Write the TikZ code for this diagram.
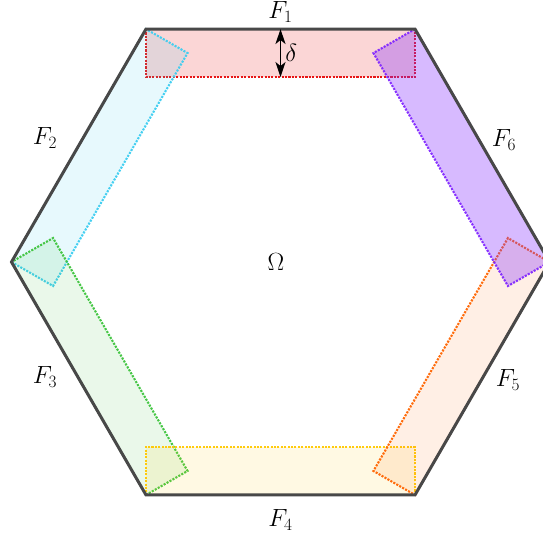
\documentclass[tikz,border=0pt]{standalone}
\usetikzlibrary{arrows.meta}
\definecolor{hexgray}{RGB}{72,72,72}
\definecolor{cFa}{RGB}{230,10,10}
\definecolor{cFb}{RGB}{60,205,240}
\definecolor{cFc}{RGB}{60,195,60}
\definecolor{cFd}{RGB}{255,200,0}
\definecolor{cFe}{RGB}{255,100,0}
\definecolor{cFf}{RGB}{130,40,255}
\tikzset{
  strip/.style={fill=#1, draw=#1, draw opacity=0.95, line width=2.1pt, dash pattern=on 2.1pt off 1.3pt},
  lab/.style={font=\fontsize{24}{28}\selectfont, inner sep=0pt},
  hexline/.style={draw=hexgray, line width=3pt, line join=miter},
  dtip/.style={Stealth[length=15pt,width=10pt,inset=4pt]},
}
\begin{document}
\begin{tikzpicture}[x=1pt,y=1pt]
\useasboundingbox (-280.5,-280) rectangle (262.5,262);
\clip (-280.5,-280) rectangle (262.5,262);
\foreach \ang/\col/\op in {0/cFa/0.17, 60/cFb/0.12, 120/cFc/0.11, 180/cFd/0.11, 240/cFe/0.1, 300/cFf/0.32} {
  \begin{scope}[rotate=\ang]
    \path[strip=\col, fill opacity=\op] (-134.5,232.96) rectangle (134.5,184.96);
  \end{scope}
}
\draw[hexline] (0:269) -- (60:269) -- (120:269) -- (180:269) -- (240:269) -- (300:269) -- cycle;
\coordinate (dtop) at (0,232.96);
\coordinate (dbot) at (0,184.96);
\draw[{Stealth[length=15pt,width=10pt,inset=4pt]}-{Stealth[length=15pt,width=10pt,inset=4pt]}, line width=1.5pt] (dtop) -- (dbot) node[midway, right=4pt, lab] (delta) {$\delta$};
\node[lab] (f1) at (0,250) {$F_1$};
\node[lab] (f2) at (-235.5,124) {$F_2$};
\node[lab] (f3) at (-235.5,-115) {$F_3$};
\node[lab] (f4) at (0,-258) {$F_4$};
\node[lab] (f5) at (227.5,-118) {$F_5$};
\node[lab] (f6) at (223.5,122) {$F_6$};
\node[lab] (omega) at (-4.5,0) {$\Omega$};
\end{tikzpicture}
\end{document}
